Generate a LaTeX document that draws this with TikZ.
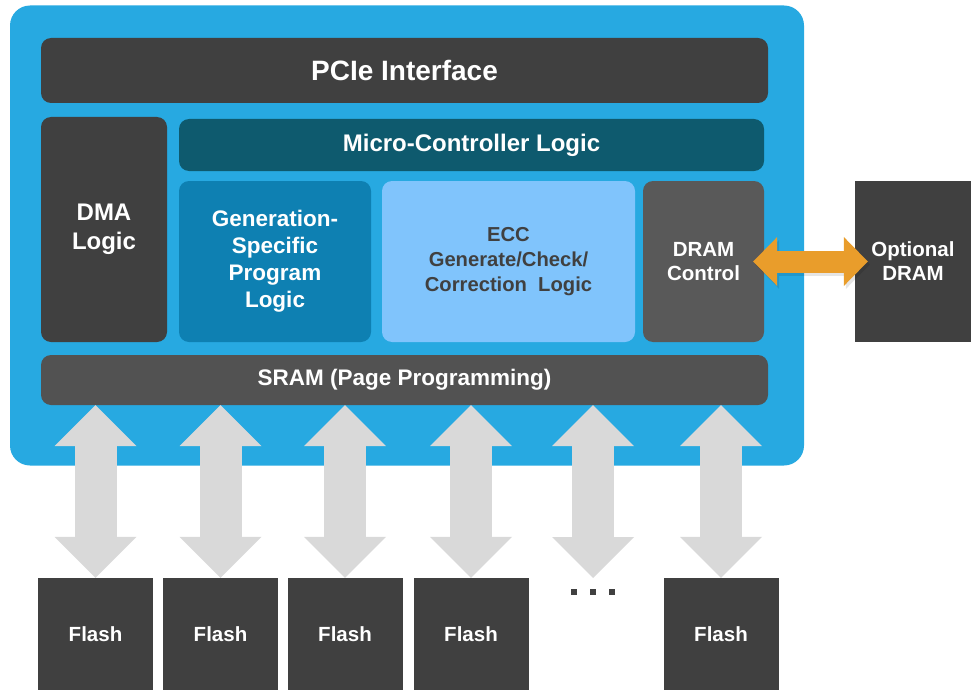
\documentclass[tikz,border=0pt]{standalone}
\usepackage{fontspec}
\setmainfont{Liberation Sans}
\usetikzlibrary{arrows.meta}

\definecolor{chipblue}{HTML}{27A9E1}
\definecolor{boxdark}{HTML}{404040}
\definecolor{mcucol}{HTML}{0E5A6E}
\definecolor{gencol}{HTML}{0E80B2}
\definecolor{ecccol}{HTML}{80C4FC}
\definecolor{dramcol}{HTML}{595959}
\definecolor{sramcol}{HTML}{525252}
\definecolor{linkorange}{HTML}{E99D2B}
\definecolor{linkgray}{HTML}{D9D9D9}

\tikzset{
  block/.style={rounded corners=10pt, fill=#1, text=white, align=center,
    inner sep=0pt, font=\bfseries},
  plainbox/.style={fill=boxdark, text=white, align=center, inner sep=0pt,
    font=\bfseries\fontsize{20.5}{24}\selectfont},
  flashlink/.style={draw=linkgray, line width=42pt,
    {Triangle[width=82pt,length=41pt,line width=0pt]}-{Triangle[width=82pt,length=41pt,line width=0pt]}},
  dramlink/.style={draw=linkorange, line width=22pt, shorten <=-11pt, shorten >=-13pt,
    {Triangle[width=49pt,length=24pt,line width=0pt]}-{Triangle[width=49pt,length=24pt,line width=0pt]}}
}

\begin{document}
\begin{tikzpicture}[x=1pt,y=-1pt]
\useasboundingbox (0,0) rectangle (971,690);

% controller chip
\node[rounded corners=20pt, fill=chipblue, minimum width=794pt, minimum height=460pt] (chip) at (407,235.5) {};

\node[block=boxdark, minimum width=727pt, minimum height=65pt,
  font=\bfseries\fontsize{28}{32}\selectfont] (pcie) at (404.5,70.5) {PCIe Interface};
\node[block=boxdark, minimum width=126pt, minimum height=225pt,
  font=\bfseries\fontsize{24}{29}\selectfont] (dma) at (104,229.5) {DMA\\Logic};
\node[block=mcucol, minimum width=585pt, minimum height=52pt,
  font=\bfseries\fontsize{24}{28}\selectfont] (mcu) at (471.5,145) {Micro-Controller Logic};
\node[block=gencol, minimum width=192pt, minimum height=161pt,
  font=\bfseries\fontsize{22.5}{27}\selectfont] (gen) at (275,261.5) {Generation-\\Specific\\Program\\Logic};
\node[block=ecccol, text=boxdark, minimum width=253pt, minimum height=161pt,
  font=\bfseries\fontsize{20.2}{25}\selectfont] (ecc) at (508.5,261.5) {ECC\\Generate/Check/\\Correction~ Logic};
\node[block=dramcol, minimum width=121pt, minimum height=161pt,
  font=\bfseries\fontsize{20.5}{24}\selectfont] (dramc) at (703.5,261.5) {DRAM\\Control};
\node[block=sramcol, minimum width=727pt, minimum height=50pt,
  font=\bfseries\fontsize{22.5}{26}\selectfont] (sram) at (404.5,380) {SRAM (Page Programming)};

% external parts
\node[plainbox, minimum width=116pt, minimum height=161pt] (optdram) at (913,261.5) {Optional\\DRAM};

\node[plainbox, minimum width=115pt, minimum height=112pt] (f1) at (95.5,634) {Flash};
\node[plainbox, minimum width=115pt, minimum height=112pt] (f2) at (220.5,634) {Flash};
\node[plainbox, minimum width=115pt, minimum height=112pt] (f3) at (345,634) {Flash};
\node[plainbox, minimum width=115pt, minimum height=112pt] (f4) at (471,634) {Flash};
\node[plainbox, minimum width=115pt, minimum height=112pt] (f6) at (721,634) {Flash};
\coordinate (gap) at (593,578);
\foreach \x in {-19,0,19}
  \fill[boxdark] ([xshift=\x pt]gap) ++(-3,11) rectangle ++(6,6);

% links
\foreach \f in {f1,f2,f3,f4,f6}
  \draw[flashlink] (sram.south -| \f.north) -- (\f.north);
\draw[flashlink] (sram.south -| gap) -- (gap);

\begin{scope}[transform canvas={xshift=2pt,yshift=-3pt}]
\draw[dramlink, draw=black, opacity=.1] (dramc.east) -- (optdram.west);
\end{scope}
\draw[dramlink] (dramc.east) -- (optdram.west);
\end{tikzpicture}
\end{document}
